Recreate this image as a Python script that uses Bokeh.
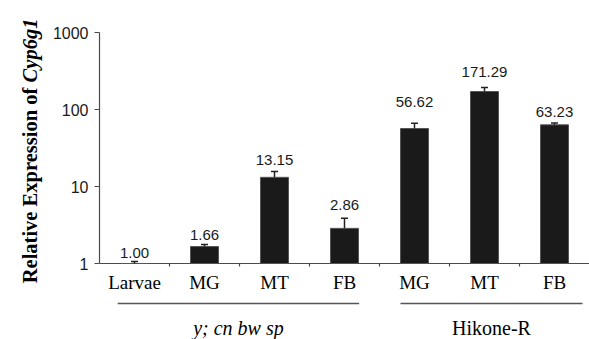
import math
from bokeh.plotting import figure
from bokeh.layouts import row
from bokeh.models import Range1d, FixedTicker, PrintfTickFormatter
from bokeh.core.properties import value
from bokeh.embed import file_html
from bokeh.resources import INLINE

# ---------------- data ----------------
categories = ["Larvae", "MG", "MT", "FB", "MG", "MT", "FB"]
expression = [1.00, 1.66, 13.15, 2.86, 56.62, 171.29, 63.23]
error_upper = [0.06, 0.10, 2.5, 1.0, 9.8, 22.0, 3.6]
value_labels = ["1.00", "1.66", "13.15", "2.86", "56.62", "171.29", "63.23"]
groups = ["y; cn bw sp", "Hikone-R"]
y_ticks = [1, 10, 100, 1000]
y_title = ["Relative Expression of", "Cyp6g1"]

# ---------------- layout ----------------
W, H = 589, 339
W1 = 45                     # width of the y-title strip
LEFT, TOP = 99, 32          # page x of the y axis / page y of the 1000 tick
BASE = 263                  # page y of value 1
CAT_PX = 70.0               # px per category
DEC = (BASE - TOP) / 3.0    # px per decade
BAR_W = 0.4
CAP_HALF = 0.05
label_gap_px = [9.0, 10.0, 11.5, 13.0, 21.0, 15.0, 11.0]   # cap -> text centre
group_line_x = [(0.26, 3.71), (4.30, 6.90)]
group_label_style = ["italic", "normal"]
title_x = 29                          # centre line of the rotated title
title_centres_page_y = [185.0, 50.0]  # page y of the centres of the two parts
title_styles = ["bold", "bold italic"]


def below(px):
    """data y for a point px pixels below value 1 (log scale)"""
    return 10 ** (-px / DEC)


# ---------- y title strip (data y == page y) ----------
t = figure(width=W1, height=H, output_backend="svg", toolbar_location=None,
           x_axis_location=None, y_axis_location=None,
           x_range=Range1d(0, W1), y_range=Range1d(H, 0),
           min_border_left=0, min_border_right=0, min_border_top=0,
           min_border_bottom=0, outline_line_color=None,
           background_fill_color="white", border_fill_color="white")
t.xgrid.visible = False
t.ygrid.visible = False
for txt, cy, st in zip(y_title, title_centres_page_y, title_styles):
    t.text(x=[title_x], y=[cy], text=[txt], angle=math.pi / 2,
           text_align="center", text_baseline="middle",
           text_font=value("Liberation Serif"), text_font_size="20.5px",
           text_font_style=st, text_color="black")

# ---------- main plot ----------
n = len(categories)
x_end = (W - LEFT) / CAT_PX
p = figure(width=W - W1, height=H, output_backend="svg", toolbar_location=None,
           y_axis_type="log", x_axis_location=None,
           x_range=Range1d(0, x_end),
           y_range=Range1d(below(H - BASE), 1000 * 10 ** (TOP / DEC)),
           min_border_left=LEFT - W1, min_border_right=0, min_border_top=0,
           min_border_bottom=0, outline_line_color=None,
           background_fill_color="white", border_fill_color="white")
p.xgrid.visible = False
p.ygrid.visible = False

AX = "#4a4a4a"
ya = p.yaxis[0]
ya.ticker = FixedTicker(ticks=y_ticks, minor_ticks=[])
ya.formatter = PrintfTickFormatter(format="%d")
ya.bounds = (1, 1000)
ya.axis_line_color = AX
ya.axis_line_width = 1.2
ya.major_tick_line_color = AX
ya.major_tick_line_width = 1.2
ya.major_tick_out = 5
ya.major_tick_in = 0
ya.minor_tick_line_color = None
ya.major_label_standoff = 6
ya.major_label_text_font = "Liberation Sans"
ya.major_label_text_font_size = "16px"
ya.major_label_text_color = "#1a1a1a"

centers = [i + 0.5 for i in range(n)]
tops = [v + e for v, e in zip(expression, error_upper)]

# baseline (x axis line) and boundary ticks
p.segment(x0=[0], y0=[1], x1=[x_end], y1=[1], line_color=AX, line_width=1.2)
p.segment(x0=list(range(1, n)), y0=[1] * (n - 1), x1=list(range(1, n)),
          y1=[below(3)] * (n - 1), line_color=AX, line_width=1.2)

# bars
p.vbar(x=centers, top=expression, bottom=1, width=BAR_W,
       fill_color="#1a1a1a", line_color="#555555", line_width=1)

# error bars (upper only)
p.segment(x0=centers, y0=expression, x1=centers, y1=tops,
          line_color="#222222", line_width=1.5)
p.segment(x0=[c - CAP_HALF for c in centers], y0=tops,
          x1=[c + CAP_HALF for c in centers], y1=tops,
          line_color="#222222", line_width=1.5)

# value labels
p.text(x=centers, y=[tp * 10 ** (g / DEC) for tp, g in zip(tops, label_gap_px)],
       text=value_labels, text_align="center", text_baseline="middle",
       text_font=value("Liberation Sans"), text_font_size="15px",
       text_color="#1a1a1a")

# category labels
p.text(x=centers, y=[below(18.5)] * n, text=categories, text_align="center",
       text_baseline="middle", text_font=value("Liberation Serif"),
       text_font_size="19px", text_color="black")

# group lines and labels
p.segment(x0=[a for a, b in group_line_x], y0=[below(40)] * 2,
          x1=[b for a, b in group_line_x], y1=[below(40)] * 2,
          line_color="#555555", line_width=1.5)
for (a, b), g, st in zip(group_line_x, groups, group_label_style):
    p.text(x=[(a + b) / 2], y=[below(64)], text=[g], text_align="center",
           text_baseline="middle", text_font=value("Liberation Serif"),
           text_font_size="20px", text_font_style=st, text_color="black")

layout = row(t, p, spacing=0)
open("out.html", "w").write(file_html(layout, INLINE))
